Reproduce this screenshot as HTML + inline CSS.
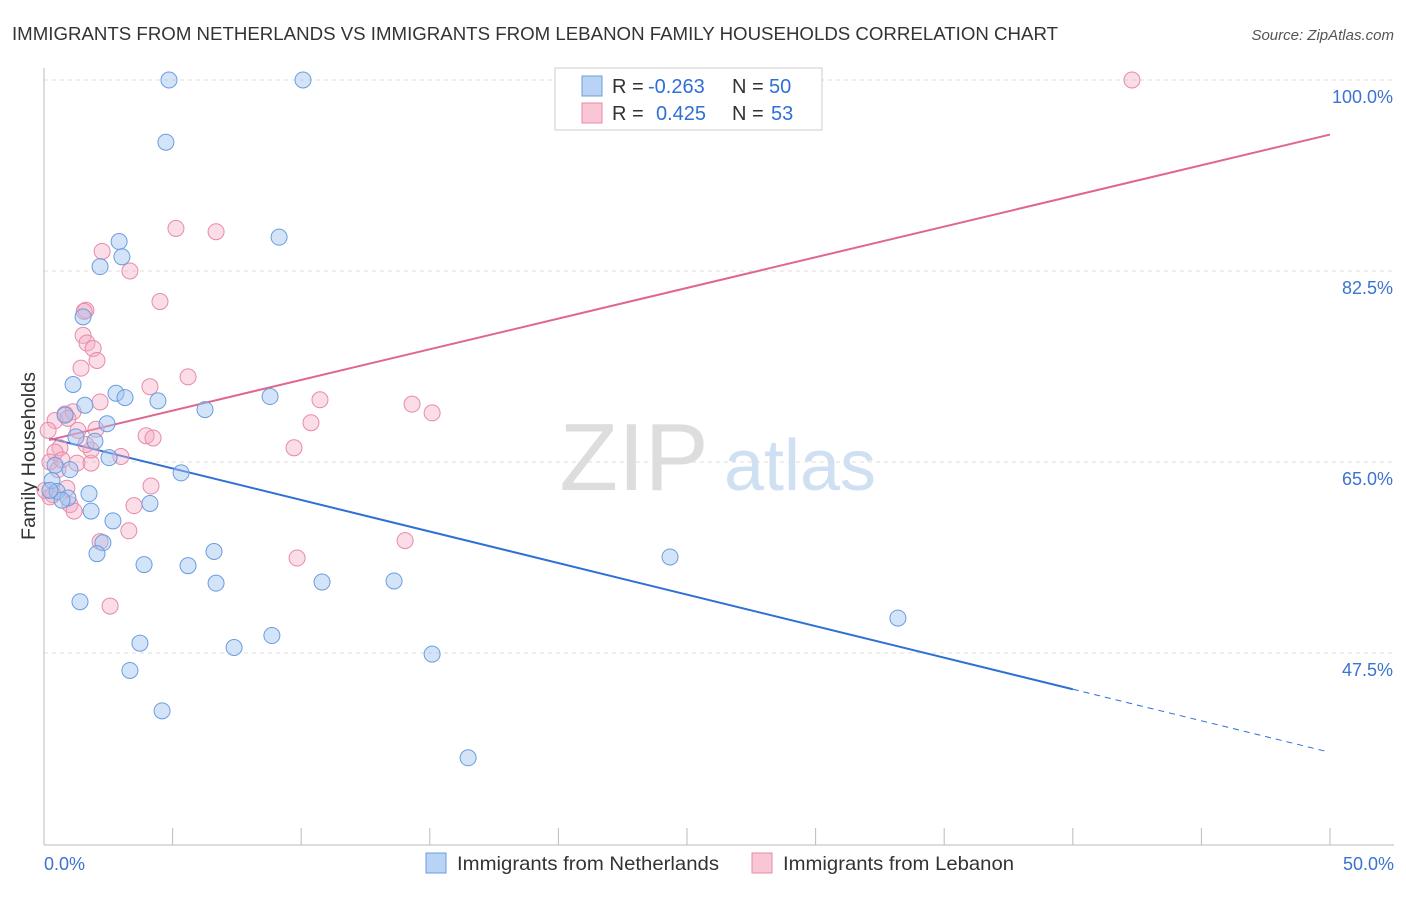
<!DOCTYPE html>
<html><head><meta charset="utf-8"><style>
body{margin:0;background:#fff;font-family:"Liberation Sans",sans-serif}
svg text{font-family:"Liberation Sans",sans-serif}
</style></head><body>
<svg id="chart" width="1406" height="892" xmlns="http://www.w3.org/2000/svg">
<text x="12" y="40" font-size="18.5" fill="#333" textLength="1046" lengthAdjust="spacingAndGlyphs">IMMIGRANTS FROM NETHERLANDS VS IMMIGRANTS FROM LEBANON FAMILY HOUSEHOLDS CORRELATION CHART</text>
<text x="1394" y="40" font-size="15" fill="#555" text-anchor="end" font-style="italic">Source: ZipAtlas.com</text>
<text x="35" y="456" font-size="19" fill="#333" text-anchor="middle" transform="rotate(-90 35 456)" textLength="168" lengthAdjust="spacingAndGlyphs">Family Households</text>
<g><text x="634" y="490" font-size="96" fill="#ddd" font-family="Liberation Serif" text-anchor="middle">ZIP</text><text x="800" y="490" font-size="72" fill="#cfe0f3" text-anchor="middle">atlas</text></g>
<g id="grid"></g><g id="lines"></g><g id="pts"></g>
<g>
<rect x="555" y="68" width="267" height="62" fill="#fff" stroke="#ccc"/>
<rect x="582" y="76" width="20" height="20" fill="#b9d3f5" stroke="#6a9de0"/>
<rect x="582" y="103" width="20" height="20" fill="#f8c6d5" stroke="#e88aa8"/>
<text x="612" y="93" font-size="20" fill="#333">R = <tspan x="648" fill="#2f6fd6">-0.263</tspan><tspan x="732">N = </tspan><tspan x="769" fill="#2f6fd6">50</tspan></text>
<text x="612" y="120" font-size="20" fill="#333">R = <tspan fill="#2f6fd6" x="656">0.425</tspan><tspan x="732">N = </tspan><tspan x="771" fill="#2f6fd6">53</tspan></text>
</g>
<g>
<rect x="426" y="853" width="20" height="20" fill="#b9d3f5" stroke="#6a9de0"/>
<text x="457" y="870" font-size="19.5" fill="#333" textLength="262" lengthAdjust="spacingAndGlyphs">Immigrants from Netherlands</text>
<rect x="752" y="853" width="20" height="20" fill="#f8c6d5" stroke="#e88aa8"/>
<text x="783" y="870" font-size="19.5" fill="#333" textLength="231" lengthAdjust="spacingAndGlyphs">Immigrants from Lebanon</text>
</g>
</svg>
<script>
const blueX=[4.86,10.07,4.74,2.92,9.14,3.03,2.18,1.52,1.13,1.59,2.80,3.15,4.43,6.26,8.79,0.82,1.24,1.98,2.45,2.53,0.43,0.31,0.51,1.75,0.93,1.83,4.12,5.33,2.68,2.29,2.06,3.89,5.60,6.61,6.69,10.81,13.61,24.34,1.40,3.73,7.39,8.86,3.34,4.59,15.09,16.49,33.20,0.70,0.23,1.01];
const blueY=[100,100,94.3,85.2,85.6,83.8,82.9,78.3,72.1,70.2,71.3,70.9,70.6,69.8,71.0,69.3,67.3,66.9,68.5,65.4,64.7,63.3,62.3,62.1,61.7,60.5,61.2,64.0,59.6,57.6,56.6,55.6,55.5,56.8,53.9,54.0,54.1,56.3,52.2,48.4,48.0,49.1,45.9,42.2,47.4,37.9,50.7,61.5,62.4,64.3];
const pinkX=[42.30,5.13,6.69,2.26,3.34,4.51,1.63,1.56,1.52,1.67,1.91,2.06,1.44,4.12,5.60,10.73,14.31,15.09,10.38,9.72,3.97,4.24,0.82,0.43,1.13,1.32,2.02,2.18,0.62,0.43,0.23,1.28,1.83,1.83,2.99,0.89,0.35,1.01,1.17,3.50,4.16,3.30,2.18,9.84,14.04,2.57,0.23,0.54,0.16,0.70,0.04,1.63,0.93];
const pinkY=[100,86.4,86.1,84.3,82.5,79.7,78.9,78.8,76.6,75.9,75.4,74.3,73.6,71.9,72.8,70.7,70.3,69.5,68.6,66.3,67.4,67.2,69.4,68.8,69.6,67.9,68.0,70.5,66.3,65.9,65.0,64.9,64.9,66.1,65.5,62.6,62.0,61.1,60.5,61.0,62.8,58.7,57.7,56.2,57.8,51.8,61.8,64.3,67.9,65.2,62.4,66.6,69.0];
const blueLine=[67.3,38.4];
const blueSolidEnd=40.0;
const pinkLine=[66.9,95.0];
const yTicks=[100,82.5,65,47.5];
const yTickLabels=["100.0%","82.5%","65.0%","47.5%"];
const xTickCount=10;

const NS="http://www.w3.org/2000/svg";
const X=v=>44+v/50*1286;
const Y=v=>80+(100-v)*191/17.5;
function mk(parent,tag,attrs){const e=document.createElementNS(NS,tag);for(const k in attrs)e.setAttribute(k,attrs[k]);document.getElementById(parent).appendChild(e);return e;}
let e;
yTicks.forEach((t,i)=>{
 e=mk('grid','line',{x1:44,x2:1394,y1:Y(t),y2:Y(t),stroke:'#ddd','stroke-dasharray':'4 4'});
 
 
 e=mk('grid','text',{x:1393,y:Y(t)+23,'font-size':18,fill:'#3b73d0','text-anchor':'end'});e.textContent=yTickLabels[i];
 
 
});
e=mk('grid','line',{x1:44,x2:44,y1:68,y2:845,stroke:'#bbb'});


e=mk('grid','line',{x1:44,x2:1394,y1:845,y2:845,stroke:'#bbb'});


for(let i=0;i<=xTickCount;i++){
 e=mk('grid','line',{x1:X(i*5),x2:X(i*5),y1:828,y2:845,stroke:'#bbb'});
 
 
}
e=mk('grid','text',{x:44,y:870,'font-size':18,fill:'#3b73d0'});e.textContent='0.0%';


e=mk('grid','text',{x:1394,y:870,'font-size':18,fill:'#3b73d0','text-anchor':'end'});e.textContent='50.0%';



const bAt=x=>blueLine[0]+(blueLine[1]-blueLine[0])*x/50;
e=mk('lines','line',{x1:X(0.2),y1:Y(bAt(0.2)),x2:X(blueSolidEnd),y2:Y(bAt(blueSolidEnd)),stroke:'#2f6fd6','stroke-width':2});


e=mk('lines','line',{x1:X(blueSolidEnd),y1:Y(bAt(blueSolidEnd)),x2:X(49.9),y2:Y(bAt(49.9)),stroke:'#2f6fd6','stroke-width':1,'stroke-dasharray':'6 5'});


const pAt=x=>pinkLine[0]+(pinkLine[1]-pinkLine[0])*x/50;
e=mk('lines','line',{x1:X(0.2),y1:Y(pAt(0.2)),x2:X(50),y2:Y(pAt(50)),stroke:'#e06690','stroke-width':2});



pinkX.forEach((x,i)=>{
 e=mk('pts','circle',{cx:X(x),cy:Y(pinkY[i]),r:8,fill:'rgba(245,170,195,0.4)',stroke:'#e88aa8','stroke-width':1});
 
 
});
blueX.forEach((x,i)=>{
 e=mk('pts','circle',{cx:X(x),cy:Y(blueY[i]),r:8,fill:'rgba(160,195,240,0.45)',stroke:'#6a9de0','stroke-width':1});
 
 
});
</script>
</body></html>
